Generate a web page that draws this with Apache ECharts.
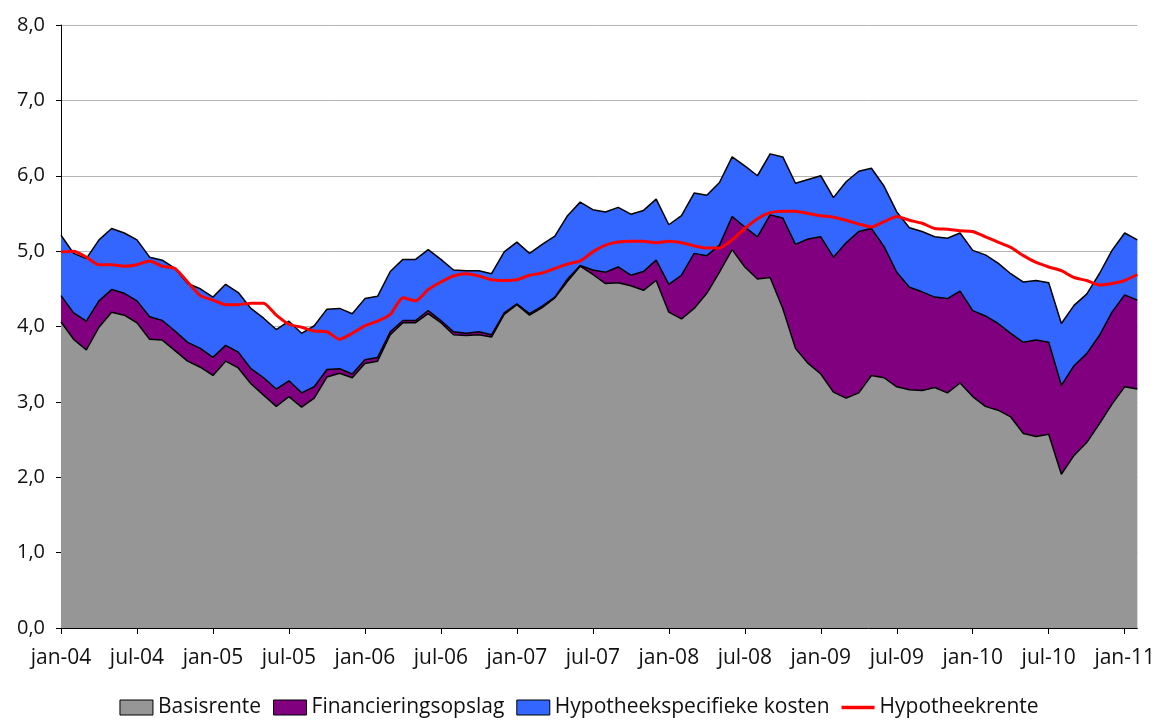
<!DOCTYPE html>
<html>
<head>
<meta charset="utf-8">
<script src="https://cdn.jsdelivr.net/npm/echarts@6/dist/echarts.min.js"></script>
<style>
  html, body { margin: 0; padding: 0; background: #fff; }
  #chart { width: 1158px; height: 720px; }
</style>
</head>
<body>
<div id="chart"></div>
<script>
// maanden jan-04 t/m feb-11
var maanden = ['jan', 'feb', 'mrt', 'apr', 'mei', 'jun', 'jul', 'aug', 'sep', 'okt', 'nov', 'dec']
var categories = []
for (var j = 2004; j <= 2011; j++) {
  for (var m = 0; m < 12; m++) {
    if (j === 2011 && m > 1) break
    categories.push(maanden[m] + '-' + String(j).slice(2))
  }
}

var basisrente = [
  4.06, 3.83, 3.69, 3.99, 4.19, 4.15, 4.05, 3.83, 3.82, 3.68, 3.54, 3.46,
  3.35, 3.54, 3.45, 3.24, 3.09, 2.94, 3.07, 2.93, 3.05, 3.33, 3.38, 3.32,
  3.51, 3.54, 3.89, 4.05, 4.05, 4.17, 4.05, 3.89, 3.88, 3.89, 3.86, 4.16,
  4.29, 4.15, 4.25, 4.38, 4.60, 4.80, 4.69, 4.57, 4.58, 4.54, 4.48, 4.61,
  4.19, 4.10, 4.24, 4.44, 4.72, 5.02, 4.79, 4.63, 4.65, 4.24, 3.71, 3.51,
  3.37, 3.13, 3.05, 3.12, 3.35, 3.32, 3.20, 3.16, 3.15, 3.19, 3.12, 3.25,
  3.07, 2.94, 2.89, 2.80, 2.58, 2.54, 2.57, 2.04, 2.29, 2.46, 2.71, 2.97,
  3.20, 3.17
]
var financieringsopslag = [
  0.35, 0.35, 0.38, 0.35, 0.30, 0.29, 0.29, 0.30, 0.26, 0.26, 0.25, 0.25,
  0.24, 0.21, 0.21, 0.20, 0.23, 0.23, 0.21, 0.19, 0.15, 0.10, 0.06, 0.05,
  0.05, 0.05, 0.04, 0.03, 0.03, 0.04, 0.03, 0.04, 0.03, 0.04, 0.03, 0.02,
  0.01, 0.02, 0.02, 0.01, 0.03, 0.01, 0.06, 0.15, 0.21, 0.14, 0.25, 0.27,
  0.37, 0.58, 0.73, 0.50, 0.36, 0.44, 0.53, 0.56, 0.83, 1.20, 1.38, 1.65,
  1.82, 1.79, 2.06, 2.14, 1.95, 1.74, 1.52, 1.36, 1.31, 1.20, 1.25, 1.22,
  1.14, 1.20, 1.15, 1.11, 1.21, 1.28, 1.22, 1.18, 1.19, 1.18, 1.17, 1.22,
  1.22, 1.18
]
var hypotheekkosten = [
  0.80, 0.79, 0.83, 0.81, 0.81, 0.80, 0.81, 0.79, 0.80, 0.83, 0.78, 0.79,
  0.80, 0.81, 0.79, 0.80, 0.79, 0.79, 0.79, 0.79, 0.81, 0.80, 0.80, 0.80,
  0.81, 0.81, 0.80, 0.81, 0.81, 0.81, 0.81, 0.82, 0.83, 0.81, 0.81, 0.81,
  0.82, 0.80, 0.82, 0.81, 0.84, 0.84, 0.80, 0.80, 0.79, 0.81, 0.81, 0.81,
  0.79, 0.79, 0.80, 0.80, 0.83, 0.79, 0.81, 0.81, 0.81, 0.81, 0.81, 0.79,
  0.81, 0.79, 0.81, 0.80, 0.80, 0.80, 0.80, 0.79, 0.80, 0.80, 0.80, 0.77,
  0.80, 0.81, 0.80, 0.79, 0.80, 0.79, 0.79, 0.82, 0.80, 0.79, 0.82, 0.82,
  0.82, 0.80
]
var hypotheekrente = [
  4.99, 5.00, 4.92, 4.82, 4.82, 4.80, 4.82, 4.87, 4.80, 4.77, 4.59, 4.41,
  4.35, 4.29, 4.29, 4.31, 4.31, 4.15, 4.03, 3.99, 3.94, 3.93, 3.83, 3.91,
  4.01, 4.07, 4.16, 4.38, 4.34, 4.49, 4.59, 4.67, 4.70, 4.67, 4.62, 4.61,
  4.62, 4.68, 4.71, 4.77, 4.83, 4.87, 4.99, 5.08, 5.12, 5.13, 5.13, 5.11,
  5.13, 5.11, 5.07, 5.04, 5.04, 5.15, 5.30, 5.43, 5.51, 5.53, 5.53, 5.50,
  5.47, 5.45, 5.41, 5.36, 5.32, 5.39, 5.46, 5.41, 5.37, 5.30, 5.29, 5.27,
  5.26, 5.19, 5.12, 5.05, 4.94, 4.85, 4.79, 4.74, 4.65, 4.61, 4.55, 4.57,
  4.61, 4.69
]

var fontFam = '"Open Sans", Lato, sans-serif'
var chart = echarts.init(document.getElementById('chart'))

function areaSerie (name, color, data) {
  return {
    name: name,
    type: 'line',
    stack: 'totaal',
    symbol: 'none',
    data: data,
    itemStyle: { color: color },
    lineStyle: { color: '#000', width: 1.5 },
    areaStyle: { color: color, opacity: 1 },
    emphasis: { disabled: true }
  }
}

chart.setOption({
  backgroundColor: '#fff',
  animation: false,
  grid: {
    left: 61,
    right: 18,
    top: 25,
    bottom: 92
  },
  legend: {
    bottom: -3,
    left: 'center',
    itemGap: 12,
    itemWidth: 33,
    itemHeight: 15,
    textStyle: { fontFamily: fontFam, fontSize: 21, color: '#111', padding: [0, 0, 0, 0] },
    data: [
      { name: 'Basisrente', icon: 'rect', itemStyle: { color: '#969696', borderColor: '#000', borderWidth: 1 } },
      { name: 'Financieringsopslag', icon: 'rect', itemStyle: { color: '#800080', borderColor: '#000', borderWidth: 1 } },
      { name: 'Hypotheekspecifieke kosten', icon: 'rect', itemStyle: { color: '#3366ff', borderColor: '#000', borderWidth: 1 } },
      { name: 'Hypotheekrente', icon: 'path://M0,0 H30 V3 H0 Z', itemStyle: { color: '#ff0000' } }
    ]
  },
  xAxis: {
    type: 'category',
    boundaryGap: false,
    data: categories,
    axisLine: { lineStyle: { color: '#000', width: 1 } },
    axisTick: { interval: 5, length: 6, lineStyle: { color: '#000' } },
    axisLabel: {
      interval: 5,
      margin: 20,
      color: '#111',
      fontFamily: fontFam,
      fontSize: 21
    },
    splitLine: { show: false }
  },
  yAxis: {
    type: 'value',
    min: 0,
    max: 8,
    interval: 1,
    axisLine: { show: true, lineStyle: { color: '#000', width: 1 } },
    axisTick: { show: true, length: 5, lineStyle: { color: '#000' } },
    axisLabel: {
      margin: 16,
      color: '#111',
      fontFamily: fontFam,
      fontSize: 20,
      formatter: function (v) { return v.toFixed(1).replace('.', ',') }
    },
    splitLine: { lineStyle: { color: '#b4b4b4', width: 1 } }
  },
  series: [
    areaSerie('Basisrente', '#969696', basisrente),
    areaSerie('Financieringsopslag', '#800080', financieringsopslag),
    areaSerie('Hypotheekspecifieke kosten', '#3366ff', hypotheekkosten),
    {
      name: 'Hypotheekrente',
      type: 'line',
      symbol: 'none',
      smooth: 0.2,
      data: hypotheekrente,
      itemStyle: { color: '#ff0000' },
      lineStyle: { color: '#ff0000', width: 3 },
      z: 5,
      emphasis: { disabled: true }
    }
  ]
})
</script>
</body>
</html>
